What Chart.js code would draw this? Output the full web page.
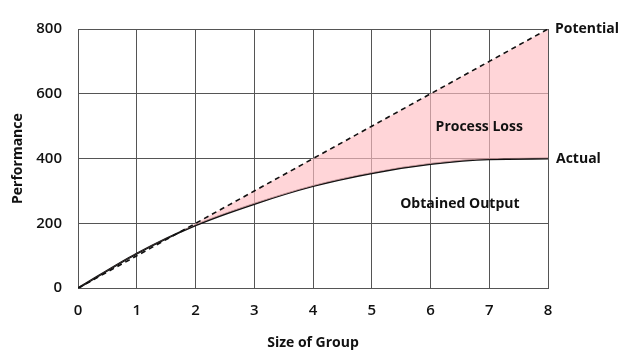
<!DOCTYPE html>
<html>
<head>
<meta charset="utf-8">
<script src="https://cdn.jsdelivr.net/npm/chart.js@4"></script>
<style>
  html, body { margin: 0; padding: 0; background: #fff; }
  #wrap { width: 628px; height: 354px; }
</style>
</head>
<body>
<div id="wrap"><canvas id="chart"></canvas></div>
<script>
// values
const groupSizes = [0, 1, 2, 3, 4, 5, 6, 7, 8]
const potential = [0, 100, 200, 300, 400, 500, 600, 700, 800]
const actual = [0, 107, 194, 260, 315, 355, 383, 398, 400]

const yTicks = [0, 200, 400, 600, 800]

// text placed on the chart, in data units
const notes = [
  { text: 'Potential', x: 8, y: 800, align: 'left', dx: 7 },
  { text: 'Actual', x: 8, y: 400, align: 'left', dx: 8 },
  { text: 'Process Loss', x: 6.83, y: 497, align: 'center', dx: 0 },
  { text: 'Obtained Output', x: 6.5, y: 259, align: 'center', dx: 0 }
]

const FONT = '"Open Sans", Lato, sans-serif'

const toPoints = (xs, ys) => xs.map((x, i) => ({ x: x, y: ys[i] }))

const notesPlugin = {
  id: 'notes',
  afterDatasetsDraw(chart) {
    const c = chart.ctx
    const sx = chart.scales.x
    const sy = chart.scales.y
    c.save()
    c.fillStyle = '#111'
    c.font = '700 14px ' + FONT
    c.textBaseline = 'middle'
    notes.forEach(n => {
      c.textAlign = n.align
      c.fillText(n.text, sx.getPixelForValue(n.x) + n.dx, sy.getPixelForValue(n.y))
    })
    c.restore()
  }
}

const chart = new Chart(document.getElementById('chart'), {
  type: 'line',
  data: {
    datasets: [{
      label: 'Potential',
      data: toPoints(groupSizes, potential),
      borderColor: '#111',
      borderWidth: 1.6,
      borderDash: [5, 4],
      pointRadius: 0,
      fill: { target: 1, above: 'rgba(255, 190, 195, 0.65)', below: 'rgba(0,0,0,0)' }
    },
    {
      label: 'Actual',
      data: toPoints(groupSizes, actual),
      borderColor: '#111',
      borderWidth: 2,
      pointRadius: 0,
      cubicInterpolationMode: 'monotone',
      fill: false
    }]
  },
  options: {
    responsive: true,
    maintainAspectRatio: false,
    animation: false,
    layout: { padding: { top: 29, right: 80, bottom: 3, left: 0 } },
    plugins: {
      legend: { display: false },
      tooltip: { enabled: false }
    },
    scales: {
      x: {
        type: 'linear',
        min: 0,
        max: 8,
        z: 1,
        ticks: { stepSize: 1, color: '#111', padding: 14, font: { family: FONT, size: 15, weight: '600' } },
        grid: { color: '#555', lineWidth: 1, drawTicks: false },
        border: { color: '#555', width: 1 },
        title: { display: true, text: 'Size of Group', color: '#111', padding: { top: 0, bottom: 0 }, font: { family: FONT, size: 14, weight: '700' } }
      },
      y: {
        min: 0,
        max: 800,
        z: 1,
        afterBuildTicks: axis => { axis.ticks = yTicks.map(v => ({ value: v })) },
        afterFit: axis => { axis.width = 78 },
        ticks: { color: '#111', padding: 16, font: { family: FONT, size: 15, weight: '600' } },
        grid: { color: '#555', lineWidth: 1, drawTicks: false },
        border: { color: '#555', width: 1 },
        title: { display: true, text: 'Performance', color: '#111', padding: { top: 10, bottom: 4 }, font: { family: FONT, size: 14, weight: '700' } }
      }
    }
  },
  plugins: [notesPlugin]
})
</script>
</body>
</html>
